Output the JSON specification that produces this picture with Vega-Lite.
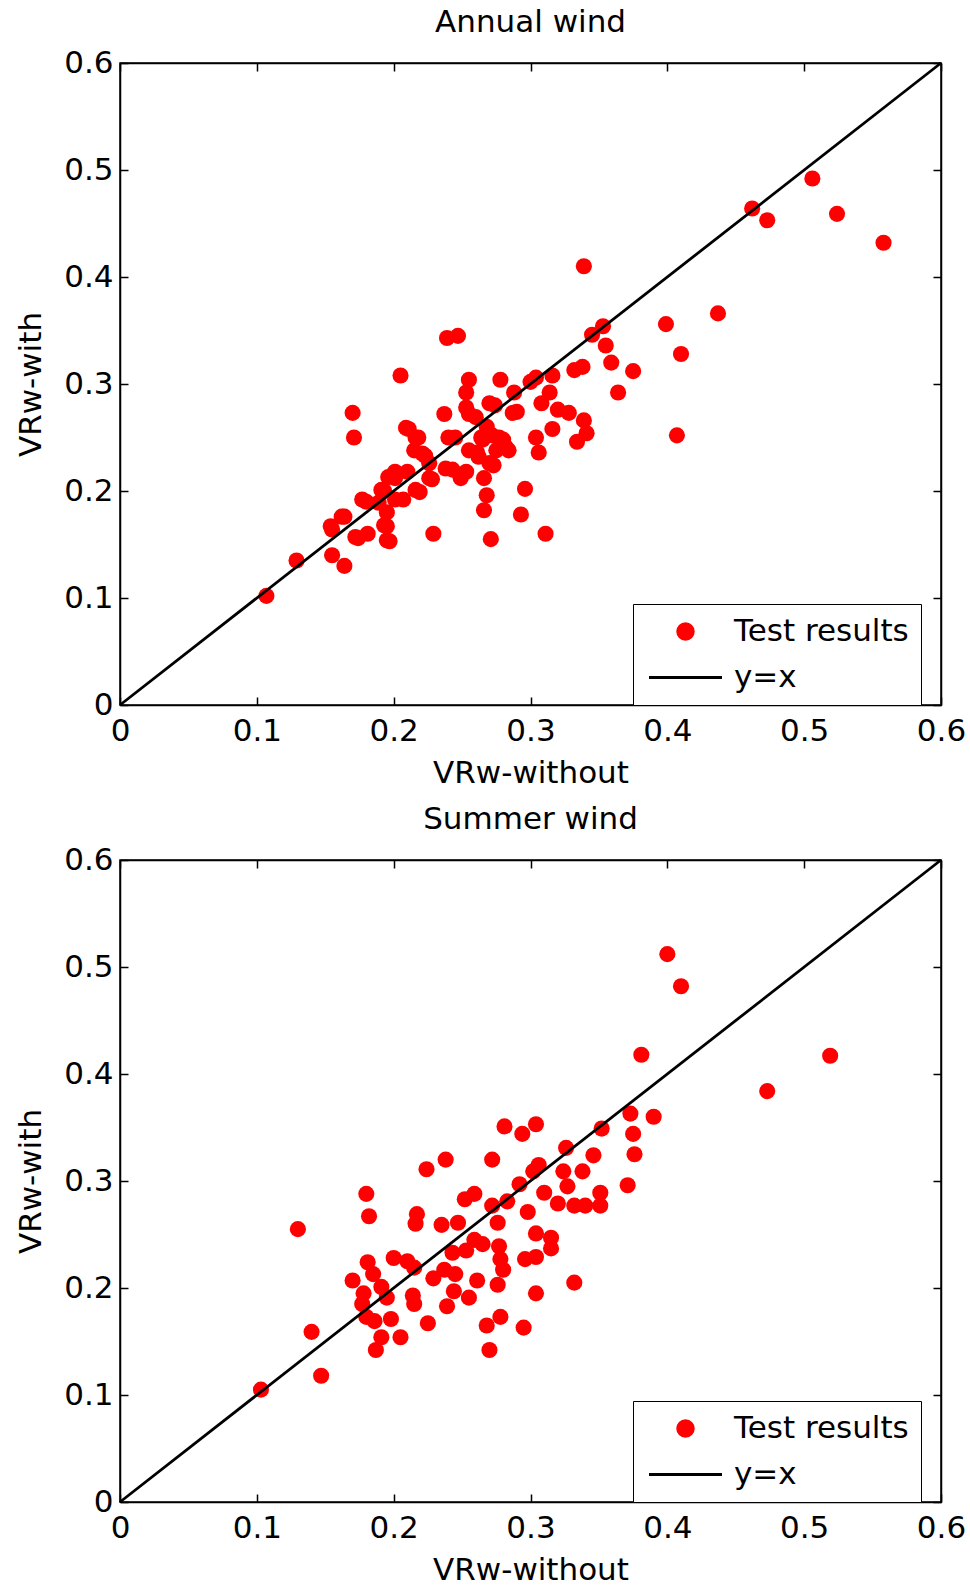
{
  "$schema": "https://vega.github.io/schema/vega-lite/v6.json",
  "padding": {"left": 14, "top": 6, "right": 5, "bottom": 2},
  "bounds": "flush",
  "spacing": 155,
  "datasets": {
    "annual": [
      {"x":0.107,"y":0.102},{"x":0.129,"y":0.135},{"x":0.155,"y":0.164},{"x":0.164,"y":0.176},{"x":0.155,"y":0.140},
      {"x":0.164,"y":0.130},{"x":0.174,"y":0.156},{"x":0.181,"y":0.160},{"x":0.180,"y":0.190},{"x":0.170,"y":0.273},
      {"x":0.171,"y":0.250},{"x":0.193,"y":0.168},{"x":0.197,"y":0.153},{"x":0.195,"y":0.180},{"x":0.193,"y":0.200},
      {"x":0.201,"y":0.212},{"x":0.207,"y":0.192},{"x":0.210,"y":0.218},{"x":0.219,"y":0.199},{"x":0.205,"y":0.308},
      {"x":0.211,"y":0.258},{"x":0.218,"y":0.250},{"x":0.215,"y":0.238},{"x":0.223,"y":0.233},{"x":0.228,"y":0.211},
      {"x":0.229,"y":0.160},{"x":0.237,"y":0.272},{"x":0.239,"y":0.343},{"x":0.247,"y":0.345},{"x":0.245,"y":0.250},
      {"x":0.243,"y":0.220},{"x":0.249,"y":0.212},{"x":0.253,"y":0.218},{"x":0.255,"y":0.304},{"x":0.253,"y":0.292},
      {"x":0.253,"y":0.278},{"x":0.255,"y":0.272},{"x":0.261,"y":0.236},{"x":0.265,"y":0.248},{"x":0.268,"y":0.260},
      {"x":0.272,"y":0.252},{"x":0.274,"y":0.280},{"x":0.278,"y":0.304},{"x":0.280,"y":0.248},{"x":0.284,"y":0.238},
      {"x":0.273,"y":0.224},{"x":0.266,"y":0.212},{"x":0.268,"y":0.196},{"x":0.266,"y":0.182},{"x":0.271,"y":0.155},
      {"x":0.288,"y":0.292},{"x":0.290,"y":0.274},{"x":0.296,"y":0.202},{"x":0.293,"y":0.178},{"x":0.300,"y":0.302},
      {"x":0.304,"y":0.250},{"x":0.306,"y":0.236},{"x":0.304,"y":0.306},{"x":0.311,"y":0.160},{"x":0.316,"y":0.308},
      {"x":0.314,"y":0.292},{"x":0.316,"y":0.258},{"x":0.308,"y":0.282},{"x":0.320,"y":0.276},{"x":0.328,"y":0.273},
      {"x":0.332,"y":0.313},{"x":0.338,"y":0.316},{"x":0.339,"y":0.410},{"x":0.339,"y":0.266},{"x":0.341,"y":0.254},
      {"x":0.334,"y":0.246},{"x":0.345,"y":0.346},{"x":0.353,"y":0.354},{"x":0.355,"y":0.336},{"x":0.359,"y":0.320},
      {"x":0.364,"y":0.292},{"x":0.375,"y":0.312},{"x":0.399,"y":0.356},{"x":0.410,"y":0.328},{"x":0.407,"y":0.252},
      {"x":0.437,"y":0.366},{"x":0.462,"y":0.464},{"x":0.473,"y":0.453},{"x":0.506,"y":0.492},{"x":0.524,"y":0.459},
      {"x":0.558,"y":0.432},
      {"x":0.255,"y":0.238},{"x":0.264,"y":0.250},{"x":0.277,"y":0.250},{"x":0.282,"y":0.241},{"x":0.262,"y":0.232},
      {"x":0.270,"y":0.226},{"x":0.275,"y":0.238},{"x":0.260,"y":0.269},{"x":0.270,"y":0.282},{"x":0.287,"y":0.273},
      {"x":0.209,"y":0.259},{"x":0.216,"y":0.250},{"x":0.221,"y":0.235},{"x":0.226,"y":0.226},{"x":0.240,"y":0.250},
      {"x":0.238,"y":0.221},{"x":0.226,"y":0.212},{"x":0.196,"y":0.213},{"x":0.201,"y":0.218},{"x":0.191,"y":0.201},
      {"x":0.189,"y":0.189},{"x":0.195,"y":0.167},{"x":0.201,"y":0.192},{"x":0.216,"y":0.201},{"x":0.177,"y":0.192},
      {"x":0.162,"y":0.176},{"x":0.154,"y":0.167},{"x":0.172,"y":0.157},{"x":0.195,"y":0.154}
    ],
    "summer": [
      {"x":0.103,"y":0.105},{"x":0.130,"y":0.255},{"x":0.140,"y":0.159},{"x":0.147,"y":0.118},{"x":0.170,"y":0.207},
      {"x":0.180,"y":0.288},{"x":0.182,"y":0.267},{"x":0.181,"y":0.224},{"x":0.185,"y":0.213},{"x":0.178,"y":0.195},
      {"x":0.177,"y":0.185},{"x":0.180,"y":0.173},{"x":0.186,"y":0.169},{"x":0.191,"y":0.201},{"x":0.195,"y":0.191},
      {"x":0.191,"y":0.154},{"x":0.187,"y":0.142},{"x":0.198,"y":0.171},{"x":0.200,"y":0.228},{"x":0.205,"y":0.154},
      {"x":0.210,"y":0.225},{"x":0.215,"y":0.219},{"x":0.214,"y":0.193},{"x":0.215,"y":0.185},{"x":0.217,"y":0.269},
      {"x":0.216,"y":0.260},{"x":0.224,"y":0.311},{"x":0.225,"y":0.167},{"x":0.229,"y":0.209},{"x":0.235,"y":0.259},
      {"x":0.237,"y":0.217},{"x":0.238,"y":0.320},{"x":0.239,"y":0.183},{"x":0.243,"y":0.233},{"x":0.245,"y":0.213},
      {"x":0.244,"y":0.197},{"x":0.247,"y":0.261},{"x":0.252,"y":0.283},{"x":0.253,"y":0.235},{"x":0.255,"y":0.191},
      {"x":0.259,"y":0.288},{"x":0.259,"y":0.245},{"x":0.261,"y":0.207},{"x":0.265,"y":0.241},{"x":0.268,"y":0.165},
      {"x":0.270,"y":0.142},{"x":0.272,"y":0.320},{"x":0.272,"y":0.277},{"x":0.276,"y":0.261},{"x":0.277,"y":0.239},
      {"x":0.278,"y":0.227},{"x":0.280,"y":0.217},{"x":0.276,"y":0.203},{"x":0.278,"y":0.173},{"x":0.281,"y":0.351},
      {"x":0.283,"y":0.281},{"x":0.292,"y":0.297},{"x":0.294,"y":0.344},{"x":0.295,"y":0.163},{"x":0.296,"y":0.227},
      {"x":0.298,"y":0.271},{"x":0.304,"y":0.353},{"x":0.302,"y":0.309},{"x":0.306,"y":0.315},{"x":0.304,"y":0.251},
      {"x":0.304,"y":0.229},{"x":0.304,"y":0.195},{"x":0.310,"y":0.289},{"x":0.315,"y":0.247},{"x":0.315,"y":0.237},
      {"x":0.320,"y":0.279},{"x":0.324,"y":0.309},{"x":0.326,"y":0.331},{"x":0.327,"y":0.295},{"x":0.332,"y":0.205},
      {"x":0.332,"y":0.277},{"x":0.338,"y":0.309},{"x":0.340,"y":0.277},{"x":0.346,"y":0.324},{"x":0.351,"y":0.289},
      {"x":0.351,"y":0.277},{"x":0.352,"y":0.349},{"x":0.371,"y":0.296},{"x":0.373,"y":0.363},{"x":0.375,"y":0.344},
      {"x":0.376,"y":0.325},{"x":0.381,"y":0.418},{"x":0.390,"y":0.360},{"x":0.400,"y":0.512},{"x":0.410,"y":0.482},
      {"x":0.473,"y":0.384},{"x":0.519,"y":0.417}
    ],
    "diag": [{"x":0,"y":0},{"x":0.6,"y":0.6}]
  },
  "vconcat": [
    {
      "title": {"text": "Annual wind"},
      "width": 821,
      "height": 642,
      "layer": [
        {
          "data": {"name": "annual"},
          "mark": {"type": "point", "filled": true, "size": 260, "opacity": 1},
          "encoding": {
            "x": {"field": "x", "type": "quantitative", "scale": {"domain": [0, 0.6], "nice": false, "zero": false},
                  "axis": {"orient": "bottom", "title": "VRw-without", "values": [0,0.1,0.2,0.3,0.4,0.5,0.6], "labelExpr": "datum.value === 0 ? '0' : format(datum.value, '.1f')", "labelPadding": 19, "titlePadding": 12}},
            "y": {"field": "y", "type": "quantitative", "scale": {"domain": [0, 0.6], "nice": false, "zero": false},
                  "axis": {"orient": "left", "title": "VRw-with", "values": [0,0.1,0.2,0.3,0.4,0.5,0.6], "labelExpr": "datum.value === 0 ? '0' : format(datum.value, '.1f')", "labelPadding": 15, "titlePadding": 16}},
            "color": {"datum": "Test results", "type": "nominal", "scale": {"domain": ["Test results", "y=x"], "range": ["#ff0000", "#000000"]},
                      "legend": {"encode": {"symbols": {"update": {
                        "shape": {"signal": "datum.value === 'y=x' ? 'stroke' : 'circle'"},
                        "size": {"signal": "datum.value === 'y=x' ? 5329 : 240"},
                        "fill": {"signal": "datum.value === 'y=x' ? 'transparent' : '#ff0000'"},
                        "stroke": {"signal": "datum.value === 'y=x' ? '#000000' : 'transparent'"},
                        "strokeWidth": {"value": 3},
                        "opacity": {"value": 1}
                      }}}}}
          }
        },
        {
          "data": {"name": "diag"},
          "mark": {"type": "line", "strokeWidth": 2.8},
          "encoding": {
            "x": {"field": "x", "type": "quantitative", "axis": {"orient": "top", "title": null, "labels": false, "values": [0,0.1,0.2,0.3,0.4,0.5,0.6]}},
            "y": {"field": "y", "type": "quantitative", "axis": {"orient": "right", "title": null, "labels": false, "values": [0,0.1,0.2,0.3,0.4,0.5,0.6]}},
            "color": {"datum": "y=x", "type": "nominal",
                      "legend": {"encode": {"symbols": {"update": {
                        "shape": {"signal": "datum.value === 'y=x' ? 'stroke' : 'circle'"},
                        "size": {"signal": "datum.value === 'y=x' ? 5329 : 240"},
                        "fill": {"signal": "datum.value === 'y=x' ? 'transparent' : '#ff0000'"},
                        "stroke": {"signal": "datum.value === 'y=x' ? '#000000' : 'transparent'"},
                        "strokeWidth": {"value": 3},
                        "opacity": {"value": 1}
                      }}}}}
          }
        }
      ],
      "resolve": {"axis": {"x": "independent", "y": "independent"}}
    },
    {
      "title": {"text": "Summer wind"},
      "width": 821,
      "height": 642,
      "layer": [
        {
          "data": {"name": "summer"},
          "mark": {"type": "point", "filled": true, "size": 260, "opacity": 1},
          "encoding": {
            "x": {"field": "x", "type": "quantitative", "scale": {"domain": [0, 0.6], "nice": false, "zero": false},
                  "axis": {"orient": "bottom", "title": "VRw-without", "values": [0,0.1,0.2,0.3,0.4,0.5,0.6], "labelExpr": "datum.value === 0 ? '0' : format(datum.value, '.1f')", "labelPadding": 19, "titlePadding": 12}},
            "y": {"field": "y", "type": "quantitative", "scale": {"domain": [0, 0.6], "nice": false, "zero": false},
                  "axis": {"orient": "left", "title": "VRw-with", "values": [0,0.1,0.2,0.3,0.4,0.5,0.6], "labelExpr": "datum.value === 0 ? '0' : format(datum.value, '.1f')", "labelPadding": 15, "titlePadding": 16}},
            "color": {"datum": "Test results", "type": "nominal", "scale": {"domain": ["Test results", "y=x"], "range": ["#ff0000", "#000000"]},
                      "legend": {"encode": {"symbols": {"update": {
                        "shape": {"signal": "datum.value === 'y=x' ? 'stroke' : 'circle'"},
                        "size": {"signal": "datum.value === 'y=x' ? 5329 : 240"},
                        "fill": {"signal": "datum.value === 'y=x' ? 'transparent' : '#ff0000'"},
                        "stroke": {"signal": "datum.value === 'y=x' ? '#000000' : 'transparent'"},
                        "strokeWidth": {"value": 3},
                        "opacity": {"value": 1}
                      }}}}}
          }
        },
        {
          "data": {"name": "diag"},
          "mark": {"type": "line", "strokeWidth": 2.8},
          "encoding": {
            "x": {"field": "x", "type": "quantitative", "axis": {"orient": "top", "title": null, "labels": false, "values": [0,0.1,0.2,0.3,0.4,0.5,0.6]}},
            "y": {"field": "y", "type": "quantitative", "axis": {"orient": "right", "title": null, "labels": false, "values": [0,0.1,0.2,0.3,0.4,0.5,0.6]}},
            "color": {"datum": "y=x", "type": "nominal",
                      "legend": {"encode": {"symbols": {"update": {
                        "shape": {"signal": "datum.value === 'y=x' ? 'stroke' : 'circle'"},
                        "size": {"signal": "datum.value === 'y=x' ? 5329 : 240"},
                        "fill": {"signal": "datum.value === 'y=x' ? 'transparent' : '#ff0000'"},
                        "stroke": {"signal": "datum.value === 'y=x' ? '#000000' : 'transparent'"},
                        "strokeWidth": {"value": 3},
                        "opacity": {"value": 1}
                      }}}}}
          }
        }
      ],
      "resolve": {"axis": {"x": "independent", "y": "independent"}}
    }
  ],
  "resolve": {"scale": {"color": "independent"}, "legend": {"color": "independent"}},
  "config": {
    "font": "DejaVu Sans",
    "view": {"stroke": "black", "strokeWidth": 1.5},
    "title": {"fontSize": 31, "fontWeight": "normal", "color": "black", "anchor": "middle", "baseline": "alphabetic", "offset": 8},
    "axis": {
      "grid": false, "domainColor": "black", "domainWidth": 1.5, "tickColor": "black", "tickWidth": 1.5, "tickSize": -8,
      "labelFontSize": 31, "labelColor": "black", "labelFlush": false, "labelOverlap": false,
      "titleFontSize": 31, "titleFontWeight": "normal", "titleColor": "black"
    },
    "legend": {
      "orient": "none", "legendX": 513, "legendY": 541, "title": null,
      "strokeColor": "black", "fillColor": "white", "padding": 12,
      "labelFontSize": 31, "labelColor": "black", "labelLimit": 400, "labelOffset": 33,
      "symbolType": "stroke", "symbolSize": 900, "symbolOffset": 25, "symbolStrokeWidth": 3, "rowPadding": 14
    }
  }
}
